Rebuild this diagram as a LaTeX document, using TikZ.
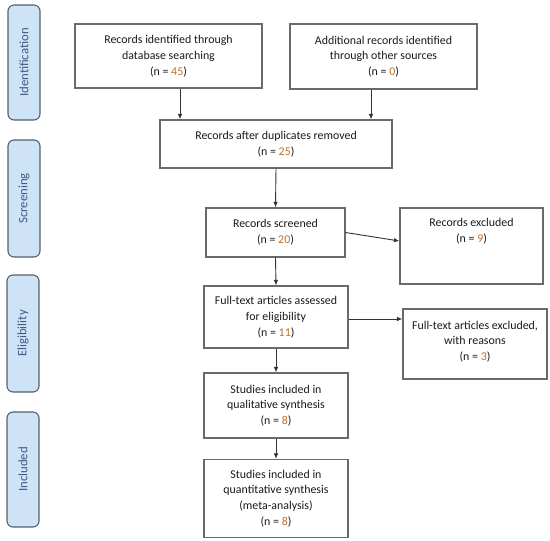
\documentclass[tikz,border=0pt]{standalone}
\usepackage{fontspec}
\setmainfont{Carlito}
\usetikzlibrary{arrows.meta}
\definecolor{numc}{HTML}{C0702A}
\definecolor{sidefill}{HTML}{CFE3F7}
\definecolor{sidedraw}{HTML}{55606B}
\definecolor{sidetext}{HTML}{3D5C85}
\definecolor{boxdraw}{HTML}{6A6A6A}
\definecolor{txtc}{HTML}{1A1A1A}
\newcommand{\nn}[1]{\textcolor{numc}{#1}}
\tikzset{
  box/.style={draw=boxdraw, line width=1.1pt, fill=white, align=center, inner sep=2pt,
    font=\fontsize{11.9}{15.8}\selectfont, text=txtc},
  txt/.style={align=center, inner sep=0pt, font=\fontsize{11.9}{15.8}\selectfont, text=txtc},
  side/.style={draw=sidedraw, fill=sidefill, line width=1.1pt, rounded corners=6pt,
    minimum width=32pt, inner sep=0pt},
  sidelabel/.style={rotate=90, text=sidetext, font=\fontsize{12.8}{14}\selectfont, inner sep=0pt},
  arr/.style={draw=black!80, line width=0.9pt, -{Latex[length=5.5pt,width=4.5pt]}}
}
\begin{document}
\begin{tikzpicture}[x=1pt,y=-1pt]
\useasboundingbox (0,0) rectangle (550,541);
% side bars
\node[side, minimum height=115pt] (s1) at (24,62.5) {};
\node[sidelabel] (s1t) at (s1.center) {Identification};
\node[side, minimum height=117pt] (s2) at (24,198.5) {};
\node[sidelabel] (s2t) at (s2.center) {Screening};
\node[side, minimum height=117pt] (s3) at (23,333.5) {};
\node[sidelabel] (s3t) at (s3.center) {Eligibility};
\node[side, minimum height=115pt] (s4) at (23,469.5) {};
\node[sidelabel] (s4t) at (s4.center) {Included};
% boxes
\node[box, minimum width=187pt, minimum height=64pt] (b1) at (168.5,56)
  {Records identified through\\database searching\\(n = \nn{45})};
\node[box, minimum width=187pt, minimum height=65pt] (b2) at (383.5,56.5)
  {Additional records identified\\through other sources\\(n = \nn{0})};
\node[box, minimum width=232pt, minimum height=48pt] (b3) at (276,144)
  {Records after duplicates removed\\(n = \nn{25})};
\node[box, minimum width=139pt, minimum height=49pt] (b4) at (275.5,232.5)
  {Records screened\\(n = \nn{20})};
\node[box, minimum width=143pt, minimum height=76pt] (b5) at (471.5,246) {};
\node[txt] (b5t) at (471.5,231.5) {Records excluded\\(n = \nn{9})};
\node[box, minimum width=144pt, minimum height=62pt] (b6) at (276,317)
  {Full-text articles assessed\\for eligibility\\(n = \nn{11})};
\node[box, minimum width=144pt, minimum height=70pt] (b7) at (475,344) {};
\node[txt] (b7t) at (475,341.5) {Full-text articles excluded,\\with reasons\\(n = \nn{3})};
\node[box, minimum width=144pt, minimum height=65pt] (b8) at (276,405.5)
  {Studies included in\\qualitative synthesis\\(n = \nn{8})};
\node[box, minimum width=144pt, minimum height=78pt] (b9) at (276,498.5)
  {Studies included in\\quantitative synthesis\\(meta-analysis)\\(n = \nn{8})};
% arrows
\draw[arr] (b1.south -| 180,0) -- (b3.north -| 180,0);
\draw[arr] (b2.south -| 371,0) -- (b3.north -| 371,0);
\draw[arr] (b3.south) -- (b4.north);
\draw[arr] (b4.east) -- ([yshift=5pt]b5.west);
\draw[arr] (b4.south) -- (b6.north);
\draw[arr] ([yshift=-2pt]b6.east) -- ([yshift=-2pt]b6.east -| b7.west);
\draw[arr] (b6.south) -- (b8.north);
\draw[arr] (b8.south) -- (b9.north);
\end{tikzpicture}
\end{document}
